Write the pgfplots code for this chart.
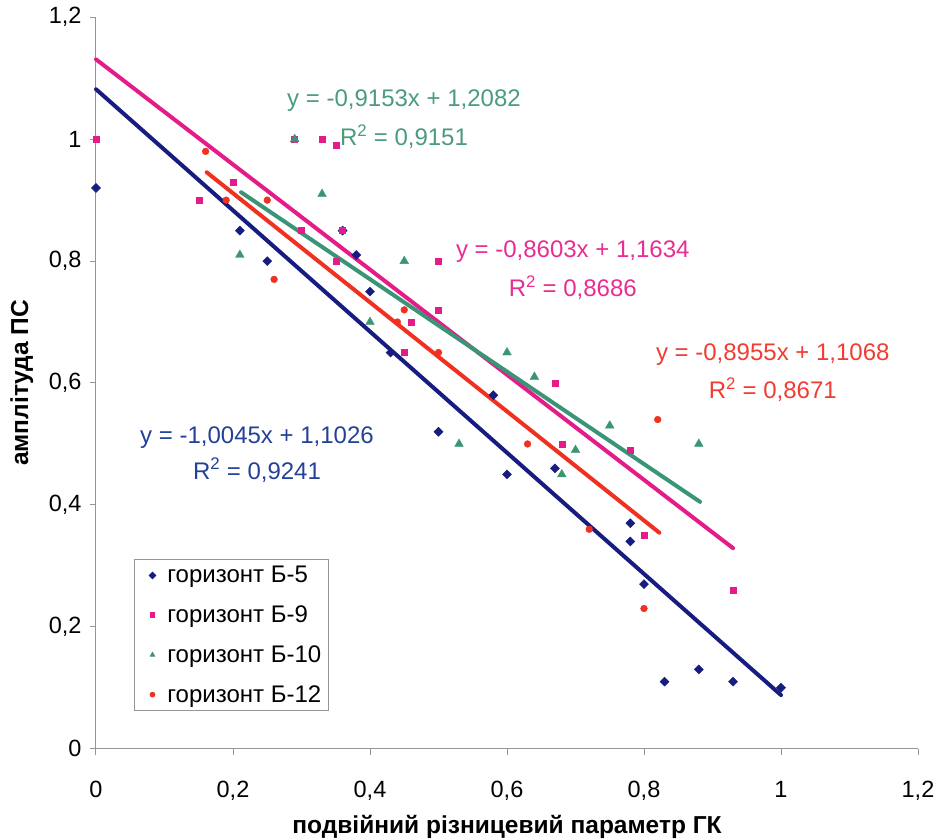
\documentclass[border=0pt]{standalone}
\usepackage{fontspec}
\setmainfont{Liberation Sans}
\usepackage{pgfplots}
\pgfplotsset{compat=1.18}
\definecolor{cB}{RGB}{22,28,128}
\definecolor{cM}{RGB}{228,28,138}
\definecolor{cG}{RGB}{58,148,118}
\definecolor{cR}{RGB}{240,48,32}
\definecolor{tB}{RGB}{35,65,150}
\definecolor{tG}{RGB}{75,155,125}
\definecolor{tM}{RGB}{232,45,145}
\definecolor{tR}{RGB}{240,60,50}
\definecolor{axg}{RGB}{150,150,150}
\begin{document}
\begin{tikzpicture}
\useasboundingbox (-96pt,-91.3pt) rectangle (843pt,748.7pt);
\begin{axis}[
  width=822pt, height=731.4pt, scale only axis,
  xmin=0, xmax=1.2, ymin=0, ymax=1.2,
  axis x line*=bottom, axis y line*=left,
  axis line style={axg, line width=1pt, -},
  xtick={0,0.2,0.4,0.6,0.8,1,1.2},
  ytick={0,0.2,0.4,0.6,0.8,1,1.2},
  tick align=outside, major tick length=6pt,
  tick style={axg, line width=1pt},
  /pgf/number format/use comma,
  /pgf/number format/assume math mode=true,
  tick label style={font=\fontsize{23.5}{27}\selectfont},
  xticklabel style={yshift=-23pt},
  yticklabel style={xshift=-5pt},
  clip=false,
  xlabel={подвійний різницевий параметр ГК},
  ylabel={амплітуда ПС},
  xlabel style={font=\bfseries\fontsize{24.5}{28}\selectfont, at={(axis description cs:0.5,0)}, anchor=base, yshift=-85pt},
  ylabel style={font=\bfseries\fontsize{24.5}{28}\selectfont, at={(axis description cs:-0.0827,0.5)}, anchor=base},
  legend style={at={(axis description cs:0.0462,0.2594)}, anchor=north west,
    draw=axg, line width=1pt, fill=white,
    font=\fontsize{24}{28}\selectfont,
    nodes={inner sep=0pt}, row sep=21.5pt, inner xsep=7pt, inner ysep=7pt,
    column sep=7.5pt},
  legend cell align=left,
  legend image code/.code={\path (-10.5pt,0pt) (7pt,0pt);
    \draw[#1, only marks, mark size=2.3pt] plot coordinates {(0pt,0pt)};},
]
\addplot[only marks, mark=square*, mark size=3.2pt, mark options={rotate=45, draw=cB, fill=cB}] coordinates {
 (0,0.92) (0.21,0.85) (0.25,0.80) (0.36,0.85) (0.38,0.81) (0.40,0.75) (0.43,0.65)
 (0.50,0.52) (0.58,0.58) (0.60,0.45) (0.67,0.46) (0.78,0.37) (0.78,0.34) (0.80,0.27)
 (0.83,0.11) (0.88,0.13) (0.93,0.11) (1.00,0.10)};
\addlegendentry{горизонт Б-5}
\addplot[only marks, mark=square*, mark size=3pt, mark options={draw=cM, fill=cM}] coordinates {
 (0,1.00) (0.15,0.90) (0.20,0.93) (0.29,1.00) (0.30,0.85) (0.33,1.00) (0.35,0.99)
 (0.35,0.80) (0.36,0.85) (0.45,0.65) (0.46,0.70) (0.50,0.80) (0.50,0.72) (0.67,0.60)
 (0.68,0.50) (0.78,0.49) (0.80,0.35) (0.93,0.26)};
\addlegendentry{горизонт Б-9}
\addplot[only marks, mark=triangle*, mark size=5pt, mark options={draw=cG, fill=cG}] coordinates {
 (0.21,0.81) (0.29,1.00) (0.33,0.91) (0.40,0.70) (0.45,0.80) (0.53,0.50) (0.60,0.65)
 (0.64,0.61) (0.68,0.45) (0.70,0.49) (0.75,0.53) (0.88,0.50)};
\addlegendentry{горизонт Б-10}
\addplot[only marks, mark=*, mark size=3.4pt, mark options={draw=cR, fill=cR}] coordinates {
 (0.16,0.98) (0.19,0.90) (0.25,0.90) (0.26,0.77) (0.44,0.70) (0.45,0.72) (0.50,0.65)
 (0.63,0.50) (0.72,0.36) (0.80,0.23) (0.82,0.54)};
\addlegendentry{горизонт Б-12}
% trend lines (endpoints)
\addplot[forget plot, cM, line width=4pt, line cap=round] coordinates {(0,1.131) (0.930,0.329)};
\addplot[forget plot, cG, line width=4pt, line cap=round] coordinates {(0.2117,0.913) (0.8818,0.405)};
\addplot[forget plot, cR, line width=4pt, line cap=round] coordinates {(0.1616,0.9457) (0.8224,0.3544)};
\addplot[forget plot, cB, line width=4pt, line cap=round] coordinates {(0,1.082) (1.0,0.088)};
% equations
\node[tG, font=\fontsize{24}{28}\selectfont] at (axis cs:0.4496,1.064) {y = -0,9153x + 1,2082};
\node[tG, font=\fontsize{24}{28}\selectfont] at (axis cs:0.4496,1.0036) {R\textsuperscript{2} = 0,9151};
\node[tM, font=\fontsize{24}{28}\selectfont] at (axis cs:0.696,0.815) {y = -0,8603x + 1,1634};
\node[tM, font=\fontsize{24}{28}\selectfont] at (axis cs:0.696,0.757) {R\textsuperscript{2} = 0,8686};
\node[tR, font=\fontsize{24}{28}\selectfont] at (axis cs:0.988,0.646) {y = -0,8955x + 1,1068};
\node[tR, font=\fontsize{24}{28}\selectfont] at (axis cs:0.988,0.589) {R\textsuperscript{2} = 0,8671};
\node[tB, font=\fontsize{24}{28}\selectfont] at (axis cs:0.235,0.511) {y = -1,0045x + 1,1026};
\node[tB, font=\fontsize{24}{28}\selectfont] at (axis cs:0.235,0.457) {R\textsuperscript{2} = 0,9241};
\end{axis}
\end{tikzpicture}
\end{document}
